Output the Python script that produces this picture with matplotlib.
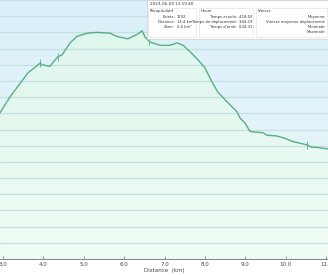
import matplotlib
matplotlib.use("Agg")
import matplotlib.pyplot as plt
import numpy as np

# elevation profile (km, m)
dist = [2.93, 3.17, 3.62, 3.92, 3.97, 4.16, 4.36, 4.46, 4.66, 4.83, 5.08, 5.33,
        5.65, 5.82, 6.09, 6.34, 6.44, 6.52, 6.64, 6.89, 7.13, 7.31, 7.46, 7.63,
        7.83, 8.00, 8.17, 8.32, 8.57, 8.79, 8.87, 8.99, 9.11, 9.19, 9.44, 9.53,
        9.78, 9.98, 10.18, 10.53, 10.65, 10.77, 11.05]
elev = [181, 200, 230, 242, 240, 238, 250, 252, 267, 275, 279, 280,
        279, 275, 272, 278, 282, 274, 268, 264, 264, 267, 264, 256,
        246, 236, 219, 206, 193, 182, 174, 168, 158, 157, 156, 153,
        152, 149, 145, 141, 138, 138, 136]
marks = [3.92, 4.36, 6.62, 10.53]
xticks = [3.0, 4.0, 5.0, 6.0, 7.0, 8.0, 9.0, 10.0, 11.0]

stamp = "2023-06-09 13:19:40"
recap = [("Points:", "1192"), ("Distance:", "14.4 km"), ("Zone:", "0.6 km²")]
heure = [("Temps écoulé:", "4:18:50"), ("Temps de déplacement:", "3:44:19"),
         ("Temps d'arrêt:", "0:34:31")]
vitesse = ["Moyenne:", "Vitesse moyenne déplacement:", "Minimale:", "Maximale:"]

fig = plt.figure(figsize=(3.28, 2.75), dpi=100)
fig.patch.set_facecolor("white")
ax = fig.add_axes([0, 16/275, 1, 259/275])
x0, x1, y0, y1 = 2.926, 11.045, 0, 320
ax.set_xlim(x0, x1)
ax.set_ylim(y0, y1)

# blue sky gradient behind, green gradient under the curve
blue = np.linspace(0, 1, 256).reshape(-1, 1)
cb = matplotlib.colors.LinearSegmentedColormap.from_list("b", ["#eaf8f8", "#dbf0fa"])
ax.imshow(blue, cmap=cb, extent=[x0, x1, y0, y1], aspect="auto", origin="lower", zorder=0)
cg = matplotlib.colors.LinearSegmentedColormap.from_list("g", ["#f0fcf6", "#dcf5ec"])
im = ax.imshow(blue, cmap=cg, extent=[x0, x1, y0, y1], aspect="auto", origin="lower", zorder=1)
poly = ax.fill_between(dist, elev, 0, color="none", zorder=1)
im.set_clip_path(poly.get_paths()[0], transform=ax.transData)

ax.set_yticks(np.arange(0, 321, 20))
ax.grid(axis="y", color="#c6dfe2", lw=0.9, zorder=2)
ax.plot(dist, elev, color="#5aae84", lw=1.0, zorder=3)
me = np.interp(marks, dist, elev)
ax.plot(marks, me, ls="none", marker="|", ms=6, mew=0.6, color="#5aae84", zorder=3)

for s in ["left", "right", "top"]:
    ax.spines[s].set_visible(False)
ax.spines["bottom"].set_color("#707070")
ax.spines["bottom"].set_linewidth(0.6)
ax.set_xticks(xticks)
ax.set_xticklabels([f"{t:.1f}" for t in xticks], fontsize=4, color="#444444")
ax.tick_params(axis="x", direction="in", length=2, width=0.5, pad=2, color="#707070")
ax.tick_params(axis="y", left=False, labelleft=False)
ax.set_xlabel("Distance  (km)", fontsize=4, color="#444444", labelpad=1)

# summary box in the top right corner
fig.patches.append(plt.Rectangle((147/328, 1 - 39/275), 181/328, 39/275,
                                 transform=fig.transFigure, fc="white", ec="#cccccc", lw=0.5))
fs = 2.7
fig.text(150/328, 1 - 4/275, stamp, fontsize=3, va="center", color="#333333")
for xa, xb in [(148, 196), (199, 253), (256, 327)]:
    fig.patches.append(plt.Rectangle((xa/328, 1 - 37/275), (xb - xa)/328, 29/275,
                                     transform=fig.transFigure, fc="none", ec="#dddddd", lw=0.4))
fig.text(150/328, 1 - 11/275, "Récapitulatif", fontsize=fs, va="center", color="#333333")
for i, (k, v) in enumerate(recap):
    y = 1 - (17 + 5*i)/275
    fig.text(175/328, y, k, fontsize=fs, va="center", ha="right", color="#333333")
    fig.text(177/328, y, v, fontsize=fs, va="center", color="#333333")
fig.text(201/328, 1 - 11/275, "Heure", fontsize=fs, va="center", color="#333333")
for i, (k, v) in enumerate(heure):
    y = 1 - (17 + 5*i)/275
    fig.text(237/328, y, k, fontsize=fs, va="center", ha="right", color="#333333")
    fig.text(239/328, y, v, fontsize=fs, va="center", color="#333333")
fig.text(258/328, 1 - 11/275, "Vitesse", fontsize=fs, va="center", color="#333333")
for i, k in enumerate(vitesse):
    y = 1 - (17 + 5*i)/275
    fig.text(326/328, y, k, fontsize=fs, va="center", ha="right", color="#333333")

fig.savefig("out.png", dpi=100)
